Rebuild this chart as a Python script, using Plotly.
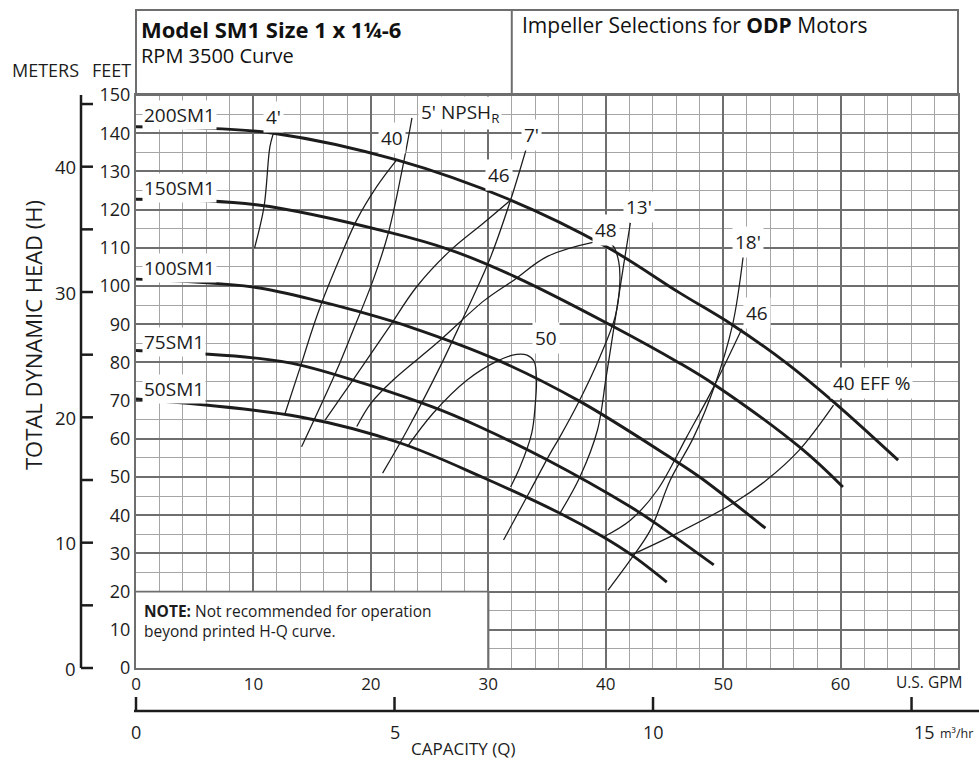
import plotly.graph_objects as go

FONT = "Open Sans, Noto Sans, DejaVu Sans, sans-serif"
INK = "#1c1c1c"
GRID_MAJOR = "#6e6e6e"
GRID_MINOR = "#a5a5a5"

# ---------------- data (U.S. GPM, feet) ----------------
hq_names = ["200SM1", "150SM1", "100SM1", "75SM1", "50SM1"]
q_200 = [0, 5, 11.7, 22.2, 31.9, 40.1, 46.3, 50.8, 55.4, 59.5, 64.9]
h_200 = [141.7, 141.4, 140.0, 133.0, 122.5, 110.2, 98.2, 89.8, 79.8, 69.4, 54.4]
q_150 = [0, 10.4, 21.5, 26.8, 32.3, 40.4, 46.3, 49.3, 56.6, 60.2]
h_150 = [122.7, 121.2, 114.1, 109.4, 102.4, 89.8, 79.8, 74.1, 57.6, 47.4]
q_100 = [0, 10, 15.9, 19.1, 23.6, 30.8, 37.8, 45.5, 48.0, 53.6]
h_100 = [101.8, 99.7, 95.8, 93.2, 89.0, 80.6, 69.8, 55.1, 50.0, 36.6]
q_75 = [0, 10, 14, 25.3, 29.3, 35.0, 42.1, 44.1, 49.2]
h_75 = [83.1, 81.2, 79.3, 68.3, 63.1, 54.5, 42.2, 38.2, 27.0]
q_50 = [0, 14, 22.5, 29.6, 36.1, 39.8, 42.2, 45.2]
h_50 = [70.4, 65.7, 58.9, 49.8, 40.5, 34.3, 29.6, 22.5]
hq_label_h = [144.8, 125.6, 104.7, 85.3, 73.0]

# NPSH required lines
q_n4 = [11.7, 11.4, 10.9, 10.1]
h_n4 = [140.0, 136.4, 120.7, 110.0]
q_n5 = [23.5, 22.8, 21.5, 20.2, 18.5, 17.1, 14.1]
h_n5 = [144.0, 132.5, 114.0, 101.6, 88.5, 78.0, 57.9]
q_n7 = [33.2, 31.9, 30.2, 28.7, 27.9, 25.9, 23.1, 21.0]
h_n7 = [135.6, 122.5, 107.6, 97.1, 91.9, 78.9, 62.3, 51.0]
q_n13 = [42.1, 41.5, 40.4, 40.0, 39.3, 37.8, 36.1]
h_n13 = [116.5, 105.0, 83.2, 75.4, 62.3, 50.0, 40.5]
q_n18 = [51.7, 50.8, 49.3, 47.5, 45.5, 43.8, 42.1, 40.2]
h_n18 = [107.6, 89.8, 74.1, 60.5, 49.2, 36.1, 28.3, 20.4]

# efficiency iso-lines
q_e40a = [12.7, 14.1, 15.0, 16.0, 17.4, 18.8, 20.5, 22.2]
h_e40a = [66.7, 79.8, 88.5, 97.1, 107.6, 117.3, 126.0, 133.0]
q_e40b = [59.4, 56.5, 53.7, 50.9, 46.1, 42.2]
h_e40b = [68.8, 57.1, 49.2, 43.2, 35.3, 29.6]
q_e46a = [16.1, 18.5, 21.4, 23.9, 26.8, 29.6, 31.9]
h_e46a = [64.9, 75.5, 88.5, 99.8, 109.4, 116.5, 122.5]
q_e46b = [51.6, 49.2, 46.9, 44.4, 42.1, 39.8]
h_e46b = [88.8, 73.6, 60.5, 46.6, 38.7, 34.3]
q_e48 = [18.8, 20.0, 21.9, 25.6, 29.7, 32.2, 35.0, 39.0, 39.8, 40.6, 41.1, 41.2, 40.8, 39.5, 37.8, 36.1, 35.3, 33.6, 31.3]
h_e48 = [63.2, 69.3, 75.4, 85.0, 96.3, 101.6, 107.7, 111.5, 111.8, 110.6, 106.5, 100.8, 91.9, 81.4, 70.2, 60.5, 56.3, 46.6, 33.5]
q_e50 = [23.1, 25.3, 28.2, 30.8, 32.4, 33.3, 33.9, 34.1, 34.0, 33.7, 32.7, 31.9]
h_e50 = [57.9, 66.7, 75.4, 80.4, 82.1, 81.9, 80.3, 75.5, 69.0, 61.5, 52.6, 47.4]

# in-chart labels
label_text = ["4'", "5' NPSH<sub>R</sub>", "7'", "13'", "18'", "40", "46", "48", "50", "46", "40 EFF %"]
label_q = [11.7, 27.6, 33.7, 42.8, 52.1, 21.8, 30.9, 40.0, 34.9, 52.9, 62.6]
label_h = [144.2, 145.3, 139.5, 120.7, 111.5, 138.7, 129.0, 114.7, 86.4, 92.9, 74.6]

# axes
feet_ticks = list(range(0, 151, 10))
gpm_ticks = list(range(0, 61, 10))
meter_ticks = list(range(0, 46, 5))
meter_labels = [0, 10, 20, 30, 40]
m3hr_ticks = [0, 5, 10, 15]
FT_PER_M = 3.28084
GPM_PER_M3HR = 4.40287
X_MAX, Y_MAX = 70, 150

fig = go.Figure()


def curve(q, h, w):
    fig.add_trace(go.Scatter(x=q, y=h, mode="lines",
                             line=dict(color=INK, width=w, shape="spline", smoothing=1.0),
                             hoverinfo="skip", showlegend=False))


for q, h in [(q_n4, h_n4), (q_n5, h_n5), (q_n7, h_n7), (q_n13, h_n13), (q_n18, h_n18),
             (q_e40a, h_e40a), (q_e40b, h_e40b), (q_e46a, h_e46a), (q_e46b, h_e46b),
             (q_e48, h_e48), (q_e50, h_e50)]:
    curve(q, h, 1.25)
for q, h in [(q_200, h_200), (q_150, h_150), (q_100, h_100), (q_75, h_75), (q_50, h_50)]:
    curve(q, h, 2.9)

ann = []
shapes = []
LBL = dict(family=FONT, size=19, color=INK)

for name, hy in zip(hq_names, hq_label_h):
    ann.append(dict(x=0.5, y=hy, xref="x", yref="y", text=name, showarrow=False,
                    xanchor="left", yanchor="middle", font=LBL, bgcolor="white", borderpad=1))
for t, qx, hy in zip(label_text, label_q, label_h):
    ann.append(dict(x=qx, y=hy, xref="x", yref="y", text=t, showarrow=False,
                    xanchor="center", yanchor="middle", font=LBL, bgcolor="white", borderpad=2))

# note box (white area, grid hidden)
shapes.append(dict(type="rect", xref="x", yref="y", x0=0, x1=30, y0=0, y1=20,
                   fillcolor="white", line=dict(width=0), layer="between"))
shapes.append(dict(type="line", xref="x", yref="y", x0=0, x1=30, y0=20, y1=20,
                   line=dict(color=GRID_MAJOR, width=1.8), layer="between"))
shapes.append(dict(type="line", xref="x", yref="y", x0=30, x1=30, y0=0, y1=20,
                   line=dict(color=GRID_MAJOR, width=2.2), layer="between"))
ann.append(dict(x=0.5, y=12.2, xref="x", yref="y",
                text="<b>NOTE:</b> Not recommended for operation<br>beyond printed H-Q curve.",
                showarrow=False, xanchor="left", yanchor="middle", align="left",
                font=dict(family=FONT, size=15.5, color=INK)))

# title boxes above the grid
PW, PH = 822.0, 573.0
def px2x(px):
    return (px - 136) / PW
def py2y(py):
    return (668 - py) / PH

top = py2y(10)
shapes.append(dict(type="rect", xref="paper", yref="paper", x0=0, x1=1, y0=1, y1=top,
                   line=dict(color=GRID_MAJOR, width=2), fillcolor="rgba(0,0,0,0)"))
shapes.append(dict(type="line", xref="paper", yref="paper", x0=32 / X_MAX, x1=32 / X_MAX, y0=1, y1=top,
                   line=dict(color=GRID_MAJOR, width=2)))
ann.append(dict(x=px2x(139), y=py2y(29), xref="paper", yref="paper",
                text="<b>Model SM1 Size 1 x 1¼-6</b>", showarrow=False, xanchor="left", yanchor="middle",
                font=dict(family=FONT, size=22, color="#111")))
ann.append(dict(x=px2x(139), y=py2y(55), xref="paper", yref="paper",
                text="RPM 3500 Curve", showarrow=False, xanchor="left", yanchor="middle",
                font=dict(family=FONT, size=20, color="#111")))
ann.append(dict(x=px2x(520), y=py2y(25), xref="paper", yref="paper",
                text="Impeller Selections for <b>ODP</b> Motors", showarrow=False, xanchor="left",
                yanchor="middle", font=dict(family=FONT, size=21, color="#111")))

# METERS / FEET headers and axis title
HDR = dict(family=FONT, size=18, color=INK)
ann.append(dict(x=px2x(45), y=py2y(70), xref="paper", yref="paper", text="METERS", showarrow=False,
                xanchor="center", yanchor="middle", font=HDR))
ann.append(dict(x=px2x(111), y=py2y(70), xref="paper", yref="paper", text="FEET", showarrow=False,
                xanchor="center", yanchor="middle", font=HDR))
ann.append(dict(x=px2x(33), y=py2y(335), xref="paper", yref="paper", text="TOTAL DYNAMIC HEAD (H)",
                showarrow=False, textangle=-90, xanchor="center", yanchor="middle",
                font=dict(family=FONT, size=22, color=INK)))

# meters scale
mx = px2x(81)
mt = px2x(93)
shapes.append(dict(type="line", xref="paper", yref="paper", x0=mx, x1=mx, y0=0, y1=1,
                   line=dict(color=INK, width=2.5)))
for m in meter_ticks:
    yy = m * FT_PER_M / Y_MAX
    shapes.append(dict(type="line", xref="paper", yref="paper", x0=mx, x1=mt, y0=yy, y1=yy,
                       line=dict(color=INK, width=2.5)))
for m in meter_labels:
    yy = m * FT_PER_M / Y_MAX
    ann.append(dict(x=px2x(78), y=yy, xref="paper", yref="paper", text=str(m), showarrow=False,
                    xanchor="right", yanchor="middle", font=dict(family=FONT, size=18.5, color=INK)))

# m3/hr scale
my = py2y(711)
myt = py2y(697)
shapes.append(dict(type="line", xref="paper", yref="paper", x0=px2x(134), x1=px2x(979), y0=my, y1=my,
                   line=dict(color=INK, width=2.5)))
for m in m3hr_ticks:
    xx = m * GPM_PER_M3HR / X_MAX
    shapes.append(dict(type="line", xref="paper", yref="paper", x0=xx, x1=xx, y0=my, y1=myt,
                       line=dict(color=INK, width=2.5)))
    ann.append(dict(x=xx, y=py2y(732), xref="paper", yref="paper", text=str(m), showarrow=False,
                    xanchor="left" if m == 15 else "center", yanchor="middle",
                    font=dict(family=FONT, size=18, color=INK)))
ann.append(dict(x=px2x(938), y=py2y(733), xref="paper", yref="paper",
                text="m³/hr", showarrow=False, xanchor="left", yanchor="middle",
                font=dict(family=FONT, size=12.5, color=INK)))
ann.append(dict(x=px2x(894), y=py2y(682), xref="paper", yref="paper", text="U.S. GPM", showarrow=False,
                xanchor="left", yanchor="middle", font=dict(family=FONT, size=15.5, color=INK)))
ann.append(dict(x=px2x(463), y=py2y(748), xref="paper", yref="paper", text="CAPACITY (Q)",
                showarrow=False, xanchor="center", yanchor="middle",
                font=dict(family=FONT, size=17, color=INK)))

fig.update_layout(
    width=979, height=760,
    margin=dict(l=136, r=21, t=95, b=92, pad=0),
    paper_bgcolor="white", plot_bgcolor="white",
    showlegend=False,
    annotations=ann, shapes=shapes,
    xaxis=dict(range=[0, X_MAX], tickmode="array", tickvals=gpm_ticks, ticktext=[str(v) for v in gpm_ticks],
               showgrid=True, gridcolor=GRID_MAJOR, gridwidth=2.2, zeroline=False,
               showline=True, linecolor=GRID_MAJOR, linewidth=2, mirror=True,
               ticks="", tickfont=dict(family=FONT, size=17, color=INK),
               minor=dict(tickmode="linear", tick0=0, dtick=2, showgrid=True,
                          gridcolor=GRID_MINOR, gridwidth=1.3)),
    yaxis=dict(range=[0, Y_MAX], tickmode="array", tickvals=feet_ticks, ticktext=[str(v) for v in feet_ticks],
               showgrid=True, gridcolor=GRID_MAJOR, gridwidth=1.8, zeroline=False,
               showline=True, linecolor=GRID_MAJOR, linewidth=2, mirror=True,
               ticks="", tickfont=dict(family=FONT, size=18, color=INK),
               minor=dict(tickmode="linear", tick0=0, dtick=5, showgrid=True,
                          gridcolor=GRID_MINOR, gridwidth=1.3)),
)

fig.write_html("out.html", config={"displayModeBar": False},
               post_script="document.body.style.margin='0';document.body.style.overflow='hidden';")
